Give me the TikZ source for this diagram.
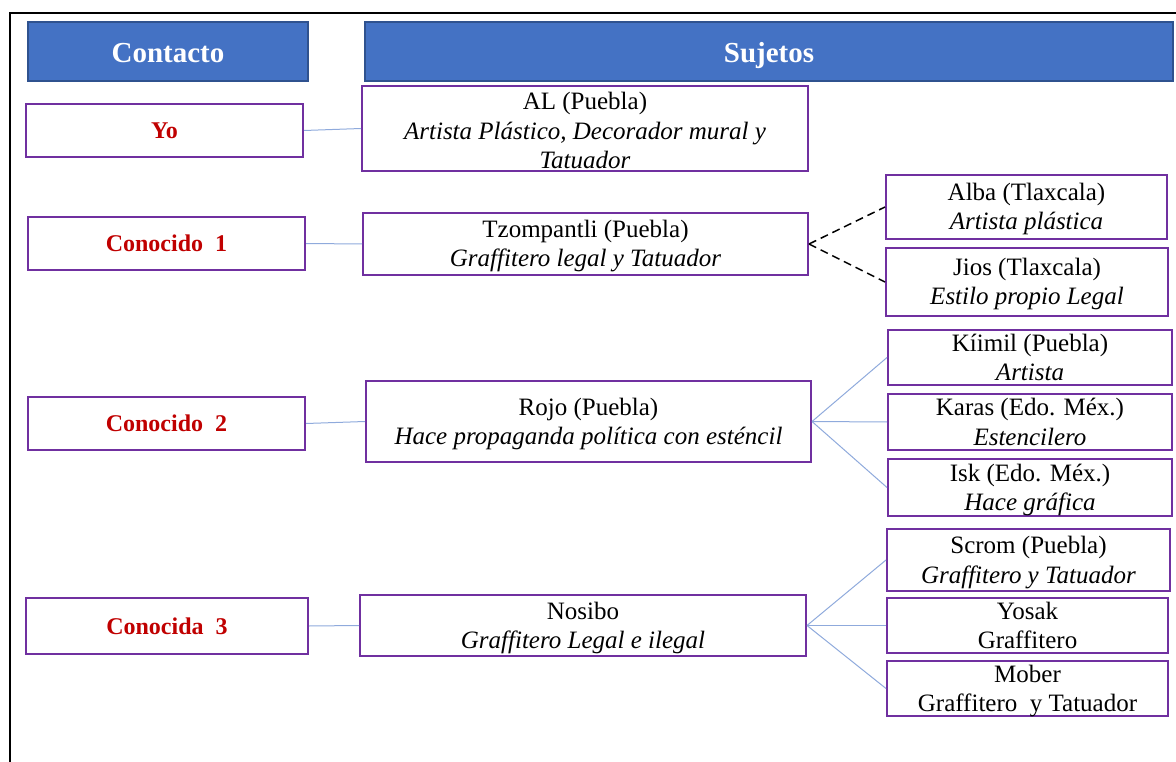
\documentclass[tikz,border=0pt]{standalone}
\usepackage{fontspec}
\setmainfont{Liberation Serif}
\definecolor{hdrfill}{HTML}{4472C4}
\definecolor{hdrline}{HTML}{2F528F}
\definecolor{pur}{HTML}{7030A0}
\definecolor{dred}{HTML}{C00000}
\definecolor{lblue}{HTML}{8FAADC}
\begin{document}
\begin{tikzpicture}[x=1pt,y=-1pt,
  hdr/.style={draw=hdrline, fill=hdrfill, line width=2pt, text=white, inner sep=0pt,
    text height=24pt, text depth=2pt,
    font=\fontsize{29}{33}\selectfont\bfseries},
  pbox/.style={draw=pur, line width=2pt, inner sep=0pt, align=center,
    text height=46pt, text depth=0pt,
    font=\fontsize{25}{29.5}\selectfont},
  lbl/.style={draw=pur, line width=2pt, inner sep=0pt, text=dred,
    font=\fontsize{24}{28}\selectfont\bfseries},
  conn/.style={draw=lblue, line width=1pt},
  dconn/.style={draw=black, line width=1.5pt, dash pattern=on 8pt off 5pt}]
\useasboundingbox (0,0) rectangle (1176,762);
% frame
\draw[line width=2pt] (10,762) -- (10,13) -- (1176,13);
% headers
\node[hdr, minimum width=280pt, minimum height=59pt] (contacto) at (168,51.5) {Contacto};
\node[hdr, minimum width=808pt, minimum height=59pt] (sujetos) at (769,51.5) {Sujetos};
% contact column
\node[lbl, minimum width=277pt, minimum height=53pt] (yo) at (164.5,130.5) {Yo};
\node[lbl, minimum width=277pt, minimum height=53pt] (c1) at (166.5,243.5) {Conocido\ \ 1};
\node[lbl, minimum width=277pt, minimum height=53pt] (c2) at (166.5,423.5) {Conocido\ \ 2};
\node[lbl, minimum width=282pt, minimum height=56pt] (c3) at (167,626) {Conocida\ \ 3};
% middle column
\node[pbox, text height=81pt, minimum width=446pt, minimum height=85pt] (al) at (585,128.5)
  {AL (Puebla)\\\textit{Artista Plástico, Decorador mural y}\\\textit{Tatuador}};
\node[pbox, minimum width=445pt, minimum height=62pt] (tz) at (585.5,244)
  {Tzompantli (Puebla)\\\textit{Graffitero legal y Tatuador}};
\node[pbox, minimum width=445pt, minimum height=81pt] (rojo) at (588.5,421.5)
  {Rojo (Puebla)\\\textit{Hace propaganda política con esténcil}};
\node[pbox, minimum width=446pt, minimum height=61pt] (nosibo) at (583,625.5)
  {Nosibo\\\textit{Graffitero Legal e ilegal}};
% right column
\node[pbox, minimum width=281pt, minimum height=64pt] (alba) at (1026.5,207)
  {Alba (Tlaxcala)\\\textit{Artista plástica}};
\node[pbox, minimum width=282pt, minimum height=68pt] (jios) at (1027,282)
  {Jios (Tlaxcala)\\\textit{Estilo propio Legal}};
\node[pbox, minimum width=284pt, minimum height=55pt] (kiimil) at (1030,357.5)
  {Kíimil (Puebla)\\\textit{Artista}};
\node[pbox, minimum width=284pt, minimum height=56pt] (karas) at (1030,422)
  {Karas (Edo. Méx.)\\\textit{Estencilero}};
\node[pbox, minimum width=284pt, minimum height=57pt] (isk) at (1030,487.5)
  {Isk (Edo. Méx.)\\\textit{Hace gráfica}};
\node[pbox, minimum width=283pt, minimum height=62pt] (scrom) at (1028.5,560)
  {Scrom (Puebla)\\\textit{Graffitero y Tatuador}};
\node[pbox, minimum width=281pt, minimum height=55pt] (yosak) at (1027.5,625.5)
  {Yosak\\Graffitero};
\node[pbox, minimum width=281pt, minimum height=55pt] (mober) at (1027.5,688.5)
  {Mober\\Graffitero\ \ y Tatuador};
% connectors
\draw[conn] (yo.east) -- (al.west);
\draw[conn] (c1.east) -- (tz.west);
\draw[conn] (c2.east) -- (rojo.west);
\draw[conn] (c3.east) -- (nosibo.west);
\draw[dconn] (tz.east) -- (alba.west);
\draw[dconn] (tz.east) -- (jios.west);
\draw[conn] (rojo.east) -- (kiimil.west);
\draw[conn] (rojo.east) -- (karas.west);
\draw[conn] (rojo.east) -- (isk.west);
\draw[conn] (nosibo.east) -- (scrom.west);
\draw[conn] (nosibo.east) -- (yosak.west);
\draw[conn] (nosibo.east) -- (mober.west);
\end{tikzpicture}
\end{document}
